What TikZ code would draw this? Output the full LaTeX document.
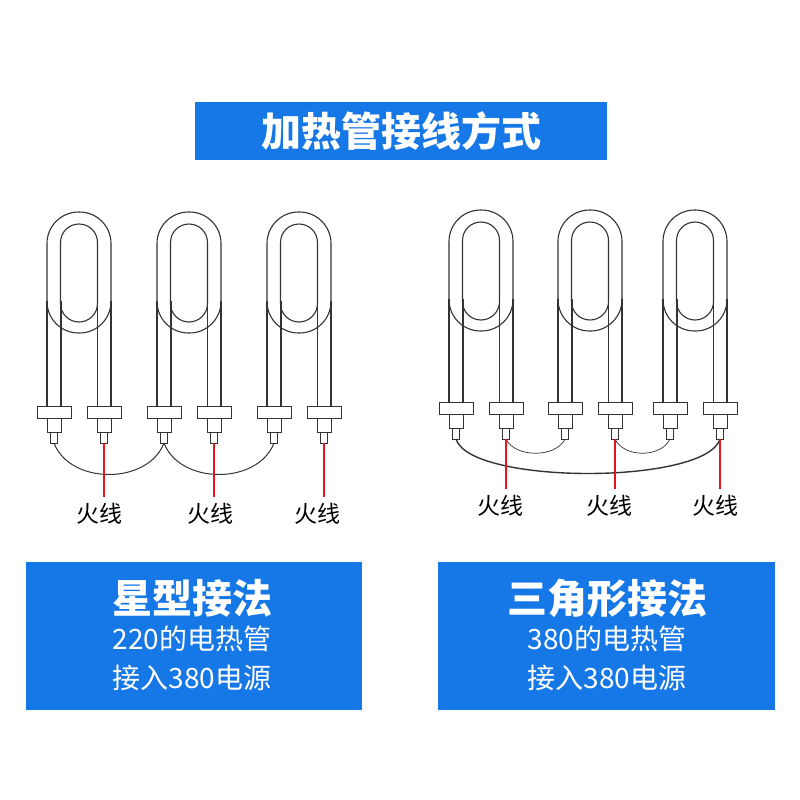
\documentclass[tikz,border=0pt]{standalone}
\usepackage{fontspec}
\setmainfont{Noto Sans CJK SC}
\definecolor{bl}{HTML}{1677E6}
\definecolor{rd}{HTML}{E8141B}
\tikzset{x=1pt,y=-1pt,
 tube/.style={draw=black!80,line width=1.1pt},
 part/.style={draw=black!80,line width=0.8pt,fill=white},
 wire/.style={draw=black!80,line width=1pt},
 hot/.style={draw=rd,line width=1.3pt},
 lbl/.style={font=\fontsize{23}{23}\selectfont},
 box/.style={fill=bl,draw=none}}
\newcommand{\heater}[3]{% cx, top y, flange y
 \begin{scope}[shift={(#1,#2)}]
 \draw[tube,rounded corners=31.5] (-32,0) rectangle (32,121);
 \draw[tube,rounded corners=18.5] (-18.5,12) rectangle (18.5,110);
 \draw[tube] (-32,89) -- (-32,#3) (-18,89) -- (-18,#3) (18.5,89) -- (18.5,#3) (32,89) -- (32,#3);
 \foreach \s in {-25,25}{
  \draw[part] (\s-17,#3) rectangle (\s+17,#3+12);
  \draw[part] (\s-7,#3+12) rectangle (\s+7,#3+26);
  \draw[part] (\s-3.5,#3+26) rectangle (\s+3.5,#3+37);}
 \end{scope}}
\begin{document}
\begin{tikzpicture}
\useasboundingbox (0,0) rectangle (800,800);
\fill[white] (0,0) rectangle (800,800);
\node[box,minimum width=412pt,minimum height=58pt,text=white,font=\fontsize{40}{40}\selectfont\bfseries] (title) at (401,131) {加热管接线方式};
% left group
\heater{79}{212}{194}
\heater{189}{212}{194}
\heater{299}{212}{194}
\coordinate (a1) at (54,443); \coordinate (a2) at (164,443); \coordinate (a3) at (274,443);
\draw[wire] (a1) .. controls (70,485) and (148,485) .. (a2);
\draw[wire] (a2) .. controls (180,485) and (258,485) .. (a3);
\node[lbl] (h1) at (99,514) {火线};
\node[lbl] (h2) at (210,514) {火线};
\node[lbl] (h3) at (317,514) {火线};
\coordinate (t1) at (104,443); \coordinate (t2) at (214,443); \coordinate (t3) at (324,443);
\draw[hot] (t1) -- (104,497); \draw[hot] (t2) -- (214,497); \draw[hot] (t3) -- (324,497);
% right group
\heater{481}{210}{192}
\heater{590}{210}{192}
\heater{695}{210}{192}
\coordinate (b1) at (456,439); \coordinate (b2) at (506,439); \coordinate (b3) at (565,439);
\coordinate (b4) at (615,439); \coordinate (b5) at (670,439); \coordinate (b6) at (720,439);
\draw[wire,line width=0.7pt] (b2) .. controls (515,458) and (556,458) .. (b3);
\draw[wire,line width=0.7pt] (b4) .. controls (624,458) and (661,458) .. (b5);
\draw[wire,line width=1.4pt] (b1) .. controls (470,485) and (706,485) .. (b6);
\draw[hot] (b2) -- (506,489); \draw[hot] (b4) -- (615,489); \draw[hot] (b6) -- (720,489);
\node[lbl] (r1) at (500,506) {火线};
\node[lbl] (r2) at (609,506) {火线};
\node[lbl] (r3) at (715,506) {火线};
% bottom boxes
\node[box,minimum width=336pt,minimum height=148pt] (lb) at (194,636) {};
\node[box,minimum width=337pt,minimum height=148pt] (rb) at (606.5,636) {};
\node[text=white,font=\fontsize{40}{40}\selectfont\bfseries] (lt1) at (192,598) {星型接法};
\node[text=white,font=\fontsize{28}{28}\selectfont] (lt2) at (192,639) {220的电热管};
\node[text=white,font=\fontsize{28}{28}\selectfont] (lt3) at (192,678) {接入380电源};
\node[text=white,font=\fontsize{40}{40}\selectfont\bfseries] (rt1) at (607,598) {三角形接法};
\node[text=white,font=\fontsize{28}{28}\selectfont] (rt2) at (607,639) {380的电热管};
\node[text=white,font=\fontsize{28}{28}\selectfont] (rt3) at (607,678) {接入380电源};
\end{tikzpicture}
\end{document}
